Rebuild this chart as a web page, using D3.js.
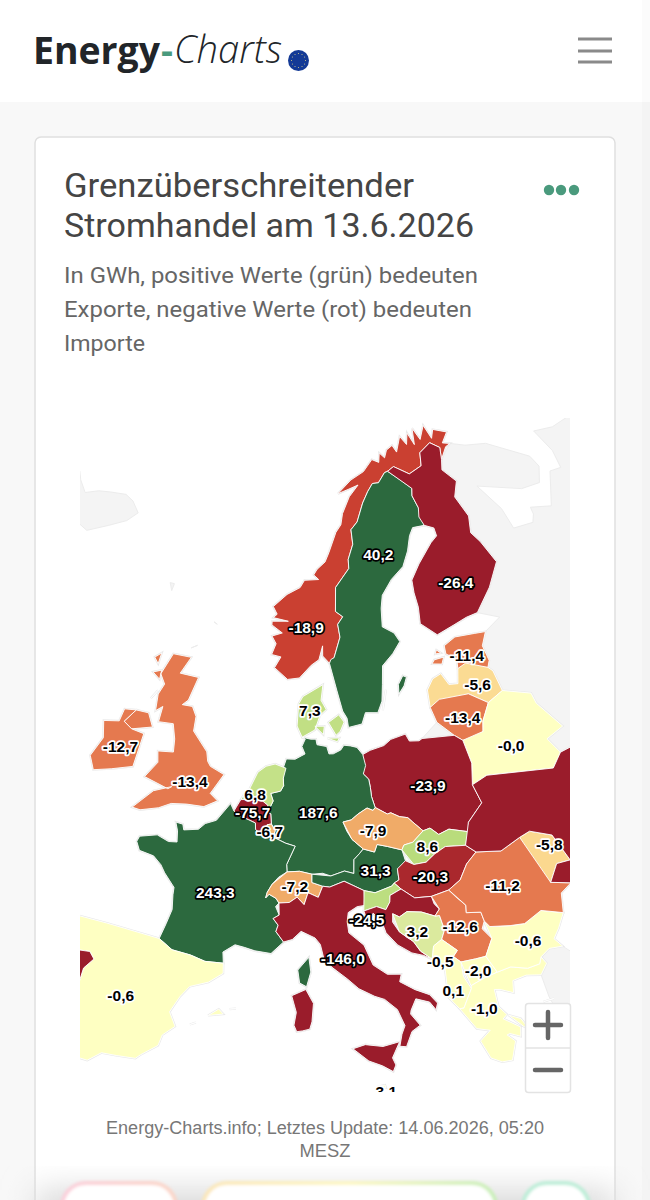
<!DOCTYPE html>
<html lang="de"><head><meta charset="utf-8">
<script src="https://cdn.jsdelivr.net/npm/d3@7"></script>
<style>html,body{margin:0;padding:0;background:#f8f8f8;overflow:hidden}svg{display:block}text{font-family:Roboto,"Liberation Sans",sans-serif}</style>
</head><body><svg id="c" width="650" height="1200"></svg>
<script>
const titleLines=["Grenzüberschreitender","Stromhandel am 13.6.2026"];
const subtitleLines=["In GWh, positive Werte (grün) bedeuten","Exporte, negative Werte (rot) bedeuten","Importe"];
const footerLines=["Energy-Charts.info; Letztes Update: 14.06.2026, 05:20","MESZ"];
const countries=["NO","SE","FI","EE","LV","LT","BY","PL","DK","DE","NL","BE","LU","FR","GB","IE","ES","PT","CH","AT","IT","CZ","SK","HU","SI","HR","BA","RS","ME","AL","MK","GR","BG","RO","MD","UA","MT"];
const values=[-18.9,40.2,-26.4,-11.4,-5.6,-13.4,-0.0,-23.9,7.3,187.6,6.8,-75.7,-6.7,243.3,-13.4,-12.7,-0.6,-30,-7.2,31.3,-146.0,-7.9,8.6,-20.3,8,-24.5,3.2,-12.6,-0.5,0.1,-2.0,-1.0,-0.6,-11.2,-5.8,-30,-3.1];
const hiddenLabels=["PT","SI","UA"];
const labelLon=[8.8,17.7,26.3,25.6,26,23.9,27.7,19.75,9.3,10.1,4.6,4.5,6.05,2.05,-1.2,-7.9,-3.85,-8,8.25,14.7,11.9,14.7,19.05,19,14.6,13.8,17.55,20.8,19,19.7,21.65,21.7,25.6,24.5,28.8,30,14.4];
const labelLat=[60.85,64.6,62.4,58.45,56.8,55.2,53.15,51.9,56.35,50.85,51.66,50.7,49.75,46.2,52,53.1,39.95,40,46.8,47.6,42.9,49.75,48.65,47,46,45,44.1,44.1,42.35,40.7,41.6,39.5,42.7,45.9,47.5,49,35.62];
const colorDomain=[-21,-19,-14,-11,-8,-7,-5.8,-3,0,3,9,30];
const colorRange=["#9a1c2b","#c93f30","#e5794f","#e5794f","#f0ab68","#f0ab68","#fbd88f","#feffc2","#feffc2","#dcea9f","#b6db7a","#2c693e"];
const darkHalo=["NO","SE","FI","DE","FR","PL","AT","HU","IT","BE","HR"];

const shapes={
NO:[[[11.3,58.9],[10.6,59.3],[10.6,59.85],[10.2,59.1],[9.4,58.8],[8.2,58.1],[7,58],[5.6,58.6],[6.2,59.2],[5.2,59.3],[5.6,59.9],[5.1,60.3],[6.2,60.5],[5,60.9],[5,61.1],[6.8,61.15],[5.1,61.3],[5.5,61.5],[5,61.9],[6.5,62.6],[8,63],[8.5,63.4],[10.2,63.45],[9.6,63.7],[10,64],[11,64.4],[11.5,64.9],[12.5,66],[13.2,66.4],[13.5,67],[14.6,67.9],[16,68.5],[14.5,68.3],[13,68.1],[15,68.8],[17,69.2],[18.5,69.8],[19.5,69.6],[19.8,70.1],[20.5,69.8],[21,70.2],[22,70.4],[22.5,70],[23.5,70.8],[24.3,70.3],[24.8,70.9],[25.5,70.2],[25.8,71.1],[26.6,70.4],[27.7,71.1],[28.4,70.3],[29,70.75],[31,70.4],[29.8,69.9],[30.9,69.75],[30.1,69.65],[28.9,69.05],[29.2,69.7],[27.9,70.1],[26,69.7],[25.7,69],[23.7,68.7],[21.6,69.25],[20.6,69.05],[20.1,69],[19,68.5],[18.1,68.5],[17.3,68.1],[16.4,67.5],[15.4,66.5],[14.5,66.1],[14.6,65.3],[13.9,64.5],[13.9,64],[12.2,63],[12.1,61.7],[12.9,61.4],[12.3,61],[12.5,60.3],[11.8,59.2],[11.45,59.1]]],
SE:[[[24.15,65.8],[22.6,65.8],[22,65.4],[21.4,64.6],[20.5,63.8],[18.9,63.2],[17.6,62.4],[17.3,61.7],[17.2,60.7],[18.4,60.3],[18.9,59.8],[18,59.2],[16.8,58.6],[16.6,57.6],[16.4,56.7],[15.9,56.1],[14.7,56.15],[14.3,55.55],[13,55.4],[12.9,55.9],[12.5,56.3],[12,57.4],[11.3,58.9],[11.45,59.1],[11.8,59.2],[12.5,60.3],[12.3,61],[12.9,61.4],[12.1,61.7],[12.2,63],[13.9,64],[13.9,64.5],[14.6,65.3],[14.5,66.1],[15.4,66.5],[16.4,67.5],[17.3,68.1],[18.1,68.5],[19,68.5],[20.1,69],[20.6,69.05],[22.4,68.4],[23.6,67.9],[23.4,67.5],[23.9,66.8],[23.7,66.3]],[[18.15,57],[18.2,57.5],[18.75,57.95],[19.1,57.85],[18.75,57.4],[18.35,57.05]],[[16.4,56.2],[16.9,57.3],[16.55,56.2]]],
FI:[[[20.6,69.05],[21.6,69.25],[23.7,68.7],[25.7,69],[26,69.7],[27.9,70.1],[29.2,69.7],[28.9,69.05],[28.5,68.5],[30,67.7],[29.1,66.9],[30.1,65.7],[29.7,64.8],[30.5,64.2],[31.6,62.9],[29.9,61.7],[27.8,60.55],[26.5,60.45],[25,60.2],[23,59.85],[21.4,60.6],[21.5,61.5],[21.3,62.3],[21.3,63],[22.5,63.8],[24.5,64.8],[25.4,65.1],[25.3,65.55],[24.15,65.8],[23.7,66.3],[23.9,66.8],[23.4,67.5],[23.6,67.9],[22.4,68.4]]],
EE:[[[24.4,57.85],[24.5,58.35],[23.5,58.75],[23.5,59.2],[24.8,59.55],[26.9,59.5],[28.1,59.45],[27.4,58.75],[27.7,57.9],[27.4,57.55],[25.3,58.05]],[[21.9,58.35],[22.2,58.55],[23.2,58.6],[22.9,58.25],[22.1,58]],[[22.4,58.85],[22.6,59.05],[23,58.85],[22.6,58.7]]],
LV:[[[21,56.05],[21,57],[21.7,57.55],[22.6,57.75],[23.2,57.1],[24.1,57.05],[24.4,57.85],[25.3,58.05],[27.4,57.55],[27.8,57.3],[28.2,56.15],[26.6,55.7],[24.9,56.4],[22,56.4]]],
LT:[[[21,56.05],[22,56.4],[24.9,56.4],[26.6,55.7],[25.7,54.8],[25.5,54.25],[24.4,53.9],[23.5,54],[22.8,54.35],[21.4,55.2],[21.15,55.35]]],
BY:[[[23.5,54],[23.9,52.7],[23.6,51.55],[25,51.9],[30.8,51.4],[31.8,52.1],[31,53],[32.7,53.4],[31,55],[30.8,55.6],[28.2,56.15],[26.6,55.7],[25.7,54.8],[25.5,54.25],[24.4,53.9]]],
PL:[[[14.2,53.9],[14.9,54.1],[16.2,54.3],[16.9,54.6],[18.3,54.8],[18.6,54.4],[19.5,54.35],[19.8,54.45],[22.8,54.35],[23.5,54],[23.9,52.7],[23.6,51.55],[24.1,50.5],[22.7,49.6],[22.55,49.1],[21,49.4],[20.1,49.2],[19.45,49.6],[18.85,49.5],[18.05,50.05],[17.7,50.3],[17,50.4],[16.3,50.65],[16,50.6],[15,51],[14.75,51.6],[14.7,52.1],[14.6,52.55],[14.15,52.85],[14.4,53.3]]],
DK:[[[8.6,54.9],[8.1,55.5],[8.2,56.7],[8.6,57.1],[10.6,57.75],[10.4,56.9],[10.9,56.4],[10.3,56.1],[9.8,55.3],[9.4,54.8]],[[11.1,55.7],[12.1,56.1],[12.6,55.7],[12.2,55.2],[11.8,55],[11.2,55.2]],[[9.8,55.5],[10.7,55.5],[10.6,55.05],[10,55.15]],[[11,54.85],[12.1,54.85],[11.9,54.65],[11.1,54.7]]],
DE:[[[7,53.3],[7.2,53.7],[8,53.7],[8.6,53.9],[8.9,54],[8.6,54.4],[8.9,54.8],[8.6,54.9],[9.4,54.8],[9.9,54.8],[10,54.5],[10.9,54.4],[11.1,54],[11.5,54],[12.2,54.2],[12.5,54.45],[13.1,54.4],[13.7,54.3],[14.2,53.9],[14.4,53.3],[14.15,52.85],[14.6,52.55],[14.7,52.1],[14.75,51.6],[15,51],[14.8,50.85],[14.3,51],[13.5,50.7],[12.9,50.4],[12.2,50.3],[12.5,49.8],[12.9,49.35],[13.8,48.8],[13.45,48.55],[13,48.25],[12.95,47.5],[12.2,47.65],[11.1,47.4],[10.45,47.55],[9.6,47.5],[8.6,47.65],[7.6,47.6],[7.55,48],[8.2,49],[7.4,49.15],[6.35,49.45],[6.5,49.8],[6.15,50.15],[6.05,50.7],[5.85,50.75],[6,51.1],[6.2,51.4],[5.95,51.8],[6.8,51.95],[7.05,52.25],[7,52.65],[7.2,53.2]]],
NL:[[[7.2,53.2],[7,52.65],[7.05,52.25],[6.8,51.95],[5.95,51.8],[6.2,51.4],[6,51.1],[5.85,50.75],[5.7,50.8],[5.75,51.15],[5.1,51.45],[4.3,51.4],[3.4,51.35],[3.6,51.6],[4.1,52],[4.7,52.9],[5.4,53.25],[6.2,53.4],[7,53.3]]],
BE:[[[3.4,51.35],[4.3,51.4],[5.1,51.45],[5.75,51.15],[5.7,50.8],[5.85,50.75],[6.05,50.7],[6.15,50.15],[5.8,50.1],[5.75,49.8],[5.85,49.5],[5.45,49.5],[4.85,49.8],[4.8,50.15],[4.2,50.3],[3.3,50.5],[2.9,50.7],[2.55,51.08]]],
LU:[[[5.85,49.5],[6.35,49.45],[6.5,49.8],[6.15,50.15],[5.8,50.1],[5.75,49.8]]],
FR:[[[2.55,51.08],[2.9,50.7],[3.3,50.5],[4.2,50.3],[4.8,50.15],[4.85,49.8],[5.45,49.5],[5.85,49.5],[6.35,49.45],[7.4,49.15],[8.2,49],[7.55,48],[7.6,47.6],[6.95,47.3],[6.45,46.9],[6.1,46.45],[6,46.15],[6.25,46.35],[6.8,46.15],[7.05,45.9],[6.8,45.7],[7.1,45.25],[6.65,45.05],[7.05,44.7],[6.9,44.35],[7.5,43.8],[6.6,43.15],[5.4,43.25],[4.6,43.4],[3.9,43.5],[3.05,43.05],[3.15,42.45],[1.8,42.45],[0.7,42.7],[-0.7,42.85],[-1.75,43.35],[-1.4,44.2],[-1.1,45],[-1.2,45.8],[-1.2,46.2],[-2.1,46.9],[-2.5,47.3],[-3.2,47.7],[-4.4,47.85],[-4.75,48.3],[-4.6,48.6],[-3.2,48.85],[-2.2,48.6],[-1.5,48.65],[-1.6,49.25],[-1.85,49.7],[-1.25,49.65],[-1.1,49.35],[0.1,49.5],[0.6,49.85],[1.5,50.1],[1.6,50.8]],[[9.4,43],[9.55,42.2],[9.25,41.4],[8.75,41.6],[8.6,42.3],[9.1,42.7]]],
GB:[[[-5.7,50.05],[-5,50],[-3.5,50.3],[-2.5,50.65],[-1.2,50.75],[0.3,50.75],[1.4,51.15],[0.7,51.5],[1.7,52.6],[0.4,52.95],[0.1,53.2],[-0.1,53.7],[-1.6,54.7],[-1.6,55.5],[-2.1,56],[-3.1,56],[-2.6,56.3],[-2,57.6],[-3.9,57.65],[-3.1,58.6],[-5,58.6],[-5.8,57.4],[-5.2,56.9],[-5.6,56.3],[-5.5,55.4],[-4.9,55.7],[-5,54.85],[-3.6,54.9],[-3.2,54.1],[-3.1,53.4],[-4.5,53.3],[-4.3,52.7],[-5.2,51.8],[-3,51.4],[-2.7,51.55],[-4.2,51.15],[-5.1,50.4]],[[-5.45,54.5],[-6.1,55.2],[-7.3,55.2],[-8.15,54.45],[-7.3,54.15],[-6.1,54.05]],[[-6.8,58.2],[-6.2,58.5],[-6.3,57.9],[-7,57.9]],[[-6.6,57.4],[-5.8,57.6],[-5.8,57.1],[-6.3,57.1]],[[-6.2,56],[-5.7,56.5],[-6.3,56.4]]],
IE:[[[-6.1,54.05],[-7.3,54.15],[-8.15,54.45],[-7.3,55.2],[-8.4,55.1],[-8.6,54.4],[-10,54.2],[-9.6,53.3],[-10.3,52.2],[-9.7,51.5],[-8.2,51.8],[-6.4,52.2],[-6,53.3]]],
ES:[[[-1.75,43.35],[-0.7,42.85],[0.7,42.7],[1.8,42.45],[3.15,42.45],[3.2,41.9],[2.2,41.35],[0.9,41],[0.3,40.4],[-0.3,39.5],[0.2,38.75],[-0.6,38.2],[-0.8,37.6],[-1.9,36.95],[-2.2,36.72],[-3.5,36.7],[-4.5,36.7],[-5.35,36.15],[-6,36.2],[-6.4,36.9],[-7.4,37.2],[-7.5,37.6],[-7,38],[-7.3,38.4],[-7,39],[-7.5,39.65],[-6.9,40.25],[-6.8,41],[-6.2,41.6],[-6.6,41.95],[-8.1,41.85],[-8.85,41.85],[-9.2,43.15],[-8,43.7],[-5.8,43.65],[-3.8,43.45]],[[2.4,39.55],[3.1,39.95],[3.45,39.7],[3.1,39.3]],[[3.85,40],[4.3,40.05],[4.25,39.85]],[[1.2,38.95],[1.6,39.1],[1.55,38.9]]],
PT:[[[-8.85,41.85],[-8.1,41.85],[-6.6,41.95],[-6.2,41.6],[-6.8,41],[-6.9,40.25],[-7.5,39.65],[-7,39],[-7.3,38.4],[-7,38],[-7.5,37.6],[-7.4,37.2],[-8.9,37],[-8.8,38.4],[-9.5,38.75],[-8.9,40.2]]],
CH:[[[7.6,47.6],[8.6,47.65],[9.6,47.5],[9.6,47.05],[10.45,46.85],[10.1,46.25],[9.3,46.5],[9,45.85],[8.45,46.25],[7.85,45.95],[7.05,45.9],[6.8,46.15],[6.25,46.35],[6,46.15],[6.1,46.45],[6.45,46.9],[6.95,47.3]]],
AT:[[[9.6,47.5],[9.6,47.05],[10.45,46.85],[11,46.8],[12.15,47.1],[13.7,46.55],[14.55,46.4],[15.9,46.7],[16.1,46.85],[16.5,47],[16.45,47.6],[17.1,47.7],[17.15,48],[16.95,48.6],[15.8,48.85],[14.95,49],[14.7,48.6],[13.8,48.8],[13.45,48.55],[13,48.25],[12.95,47.5],[12.2,47.65],[11.1,47.4],[10.45,47.55]]],
IT:[[[7.05,45.9],[7.85,45.95],[8.45,46.25],[9,45.85],[9.3,46.5],[10.1,46.25],[10.45,46.85],[11,46.8],[12.15,47.1],[13.7,46.55],[13.7,45.75],[13.1,45.7],[12.4,45.4],[12.3,44.9],[12.4,44.3],[13.5,43.6],[14.1,42.5],[15.1,41.95],[16.1,41.9],[15.95,41.5],[17,41],[18,40.65],[18.5,40.15],[18.35,39.8],[17.95,40.25],[17,40.5],[16.6,39.9],[16.55,39.7],[17.15,39.05],[16.55,38.75],[16.1,37.95],[15.65,38],[15.85,38.65],[16.1,39.1],[15.65,40],[14.8,40.6],[14.1,40.8],[13,41.25],[12.2,41.8],[11.1,42.45],[10.5,42.95],[10.25,43.7],[9.85,44.05],[8.8,44.4],[8.15,43.95],[7.5,43.8],[6.9,44.35],[7.05,44.7],[6.65,45.05],[7.1,45.25],[6.8,45.7]],[[12.45,38],[13.3,38.2],[14.5,38.05],[15.65,38.25],[15.1,37.4],[15.3,37],[15.1,36.65],[14.4,37],[13.5,37.3],[12.5,37.6]],[[8.2,40.9],[9.2,41.25],[9.75,40.5],[9.65,39.5],[9.5,39.1],[9,39],[8.6,38.95],[8.4,39.3],[8.55,40],[8.2,40.6]]],
CZ:[[[12.2,50.3],[12.9,50.4],[13.5,50.7],[14.3,51],[14.8,50.85],[15,51],[16,50.6],[16.3,50.65],[17,50.4],[17.7,50.3],[18.05,50.05],[18.85,49.5],[17.9,48.95],[17.15,48.85],[16.95,48.6],[15.8,48.85],[14.95,49],[14.7,48.6],[13.8,48.8],[12.9,49.35],[12.5,49.8]]],
SK:[[[16.95,48.6],[17.15,48.85],[17.9,48.95],[18.85,49.5],[19.45,49.6],[20.1,49.2],[21,49.4],[22.55,49.1],[22.15,48.4],[20.5,48.5],[19.6,48.2],[18.8,47.8],[17.8,47.75],[17.15,48]]],
HU:[[[17.15,48],[17.8,47.75],[18.8,47.8],[19.6,48.2],[20.5,48.5],[22.15,48.4],[22.9,47.95],[22,47.4],[21.3,46.6],[20.3,46.15],[18.9,45.93],[17.6,45.95],[16.6,46.5],[16.1,46.85],[16.5,47],[16.45,47.6],[17.1,47.7]]],
SI:[[[13.7,46.55],[14.55,46.4],[15.9,46.7],[16.1,46.85],[16.6,46.5],[15.7,46.2],[15.65,45.85],[15.3,45.45],[14.6,45.65],[13.6,45.45],[13.7,45.75]]],
HR:[[[13.6,45.45],[14.6,45.65],[15.3,45.45],[15.65,45.85],[15.7,46.2],[16.6,46.5],[17.6,45.95],[18.9,45.93],[19.05,45.5],[19.4,45.2],[19,44.85],[18,45.15],[16.9,45.25],[16.3,45],[15.8,45.2],[15.75,44.75],[16.2,44.2],[17.2,43.6],[17.65,43.05],[18.45,42.55],[17.85,42.8],[17,43],[16,43.5],[15.2,44.2],[14.9,44.9],[14.3,45.3],[13.9,44.85],[13.55,45.1]]],
BA:[[[15.8,45.2],[16.3,45],[16.9,45.25],[18,45.15],[19,44.85],[19.35,44.85],[19.6,44.05],[19.3,43.55],[18.65,43.25],[18.45,42.55],[17.65,43.05],[17.2,43.6],[16.2,44.2],[15.75,44.75]]],
RS:[[[18.9,45.93],[20.3,46.15],[20.75,45.75],[21.45,45.2],[21.4,44.8],[22.5,44.7],[22.65,44.2],[22.4,43.8],[23,43.2],[22.36,42.3],[21.6,42.25],[20.5,42.2],[20,42.55],[20.35,42.85],[19.3,43.55],[19.6,44.05],[19.35,44.85],[19,44.85],[19.4,45.2],[19.05,45.5]]],
ME:[[[18.45,42.55],[18.65,43.25],[19.3,43.55],[20.35,42.85],[20,42.55],[19.3,41.9],[18.9,42.25]]],
AL:[[[19.3,41.9],[20,42.55],[20.5,42.2],[20.55,41.4],[21,40.7],[20.3,39.7],[20,39.7],[19.3,40.4],[19.5,41.3]]],
MK:[[[20.5,42.2],[21.6,42.25],[22.36,42.3],[23,41.35],[22,41.15],[21,40.85],[20.55,41.4]]],
GR:[[[20,39.7],[20.3,39.7],[21,40.7],[21,40.85],[22,41.15],[23,41.35],[24,41.5],[25.2,41.25],[26.1,41.35],[26.3,41.7],[26.6,41.3],[26.05,40.75],[25,40.9],[24,40.75],[23.9,40.1],[23,40.4],[22.6,40.45],[22.7,39.5],[23.2,39],[22.9,38.8],[24,38.2],[23.9,37.7],[23.2,37.95],[23,37.9],[23.5,37.5],[23.1,36.5],[22.4,36.5],[21.7,36.8],[21.15,37.8],[21.9,38.3],[21,38.5],[20.7,39]],[[23.3,38.95],[24.1,38.65],[24.55,38],[24.2,38.2],[23.2,38.75]],[[25.85,39.3],[26.6,39.35],[26.4,39]]],
BG:[[[22.65,44.2],[23,43.85],[24.5,43.7],[25.6,43.65],[27,44.15],[28.6,43.75],[28,43],[27.5,42.5],[28,42],[27,42.05],[26.3,41.7],[26.1,41.35],[25.2,41.25],[24,41.5],[23,41.35],[22.36,42.3],[23,43.2],[22.4,43.8]]],
RO:[[[20.3,46.15],[21.3,46.6],[22,47.4],[22.9,47.95],[24.9,47.75],[26.6,48.25],[28.1,46.85],[28.2,45.5],[29.7,45.2],[28.8,44.8],[28.6,43.75],[27,44.15],[25.6,43.65],[24.5,43.7],[23,43.85],[22.65,44.2],[22.5,44.7],[21.4,44.8],[21.45,45.2],[20.75,45.75]]],
MD:[[[26.6,48.25],[27.5,48.45],[29.2,47.95],[30.1,46.4],[29,46.4],[28.2,45.5],[28.1,46.85]]],
UA:[[[22.15,48.4],[22.9,47.95],[24.9,47.75],[26.6,48.25],[27.5,48.45],[29.2,47.95],[30.1,46.4],[29,46.4],[28.2,45.5],[29.7,45.2],[30.8,46.5],[33,46.1],[33.6,46],[36,46.5],[38.2,47.1],[40,49.6],[35.5,50.4],[33.8,52.3],[31.8,52.1],[30.8,51.4],[25,51.9],[23.6,51.55],[24.1,50.5],[22.7,49.6],[22.55,49.1]]],
MT:[[[14.2,35.9],[14.5,35.95],[14.55,35.8],[14.35,35.8]]]
};
const greyLands=[
[[-24.3,65.6],[-23,66.2],[-22.3,65.8],[-21,65.3],[-19.5,65.7],[-18,65.9],[-16,66.1],[-14.8,65.9],[-13.6,65.4],[-14.6,64.8],[-16.5,64.2],[-18.7,63.5],[-21,63.8],[-22.7,63.85],[-22,64.4],[-24,64.85],[-22,65.3]],
[[30.9,69.75],[33,69.4],[36,69.1],[41,67.5],[41.5,66.8],[40.5,66],[38,66.1],[32.5,67.1],[34.5,65.5],[35,64.3],[37.5,64.2],[38,64.6],[38,65],[40.5,64.6],[42.5,66.3],[44,66.2],[44.2,67.2],[43.3,68.6],[46,68.3],[60,68],[60,50],[40,49.6],[35.5,50.4],[33.8,52.3],[31.8,52.1],[31,53],[32.7,53.4],[31,55],[30.8,55.6],[28.2,56.15],[27.8,57.3],[27.4,57.55],[27.7,57.9],[27.4,58.75],[28.1,59.45],[30,60],[27.8,60.55],[29.9,61.7],[31.6,62.9],[30.5,64.2],[29.7,64.8],[30.1,65.7],[29.1,66.9],[30,67.7],[28.5,68.5],[28.9,69.05],[30.1,69.65]],
[[19.8,54.45],[22.8,54.35],[21.4,55.2],[20.5,54.95]],
[[26.05,40.75],[26.6,41.3],[26.3,41.7],[27,42.05],[28,42],[29,41.2],[31,41.1],[35,42],[42,41.5],[44,37],[36,36.3],[30,36.3],[27.3,37],[26.3,39.5],[26.2,40]],
[[-7.2,62.3],[-6.7,62.3],[-6.8,61.9],[-7.1,62]],
[[-1.4,60.7],[-1,60.6],[-1.3,59.9]],
[[-3.3,59.1],[-2.7,59.3],[-2.9,58.9]]
];

const svg=d3.select("#c");
const defs=svg.append("defs");
defs.append("clipPath").attr("id","mapClip").append("rect").attr("x",80).attr("y",418).attr("width",490).attr("height",674);
defs.append("filter").attr("id","soft").attr("x","-20%").attr("y","-40%").attr("width","140%").attr("height","180%").append("feGaussianBlur").attr("stdDeviation",1.6);
defs.append("filter").attr("id","shade").attr("x","-20%").attr("y","-60%").attr("width","140%").attr("height","220%").append("feGaussianBlur").attr("stdDeviation",16);
const pinkGrad=defs.append("linearGradient").attr("id","pk");
pinkGrad.append("stop").attr("offset",0).attr("stop-color","#fbd0dc");pinkGrad.append("stop").attr("offset",1).attr("stop-color","#fbd6c8");
const midGrad=defs.append("linearGradient").attr("id","mid");
midGrad.append("stop").attr("offset",0).attr("stop-color","#fbe7ba");midGrad.append("stop").attr("offset",.5).attr("stop-color","#fdf7c4");midGrad.append("stop").attr("offset",1).attr("stop-color","#c9efb9");

svg.append("rect").attr("width",650).attr("height",1200).attr("fill","#f8f8f8");
svg.append("rect").attr("width",642).attr("height",102).attr("fill","#fff");
svg.append("rect").attr("x",642).attr("width",8).attr("height",1200).attr("fill","#f4f4f4");
svg.append("rect").attr("x",642).attr("width",8).attr("height",102).attr("fill","#fbfbfb");
svg.append("text").attr("x",33).attr("y",64).attr("font-size",38).attr("font-weight",700).attr("fill","#212529").style("font-family","'Open Sans'").attr("textLength",127).attr("lengthAdjust","spacingAndGlyphs").text("Energy");
svg.append("text").attr("x",161).attr("y",64).attr("font-size",38).attr("font-weight",700).attr("fill","#4a9a7d").style("font-family","'Open Sans'").attr("textLength",12).attr("lengthAdjust","spacingAndGlyphs").text("-");
svg.append("text").attr("x",174).attr("y",63).attr("font-size",38).attr("font-style","italic").attr("font-weight",300).attr("fill","#212529").style("font-family","'Open Sans'").attr("textLength",108).attr("lengthAdjust","spacingAndGlyphs").text("Charts");
svg.append("circle").attr("cx",298.5).attr("cy",60.5).attr("r",10.5).attr("fill","#143a96");
const starAngles=d3.range(12).map(i=>i*30);
svg.append("g").selectAll("circle").data(starAngles).join("circle").attr("cx",d=>298.5+7*Math.cos(d*Math.PI/180)).attr("cy",d=>60.5+7*Math.sin(d*Math.PI/180)).attr("r",.55).attr("fill","#c9c48a");
[39,51,62].forEach(y=>svg.append("rect").attr("x",578).attr("y",y-1.5).attr("width",34).attr("height",3).attr("fill","#8a8a8a"));

svg.append("rect").attr("x",35).attr("y",137).attr("width",580).attr("height",1080).attr("rx",6).attr("fill","#fff").attr("stroke","#dfdfdf").attr("stroke-width",1.5);

svg.append("g").selectAll("text").data(titleLines).join("text").attr("x",64).attr("y",(d,i)=>197+i*40).attr("font-size",33).attr("fill","#454545").attr("textLength",(d,i)=>[350,410][i]).attr("lengthAdjust","spacingAndGlyphs").text(d=>d);
svg.append("g").selectAll("text").data(subtitleLines).join("text").attr("x",64).attr("y",(d,i)=>283+i*34).attr("font-size",22).attr("fill","#666").attr("textLength",(d,i)=>[414,408,81][i]).attr("lengthAdjust","spacingAndGlyphs").text(d=>d);
svg.append("g").selectAll("circle").data([549,561,574]).join("circle").attr("cx",d=>d).attr("cy",190).attr("r",5.2).attr("fill","#4a9a7d");

const projection=d3.geoAzimuthalEqualArea().rotate([-10,-52]).scale(1060).translate([317,791]).precision(.1);
const path=d3.geoPath(d3.geoTransform({point(x,y){const p=projection([x,y]);this.stream.point(p[0],p[1]);}}));
const color=d3.scaleLinear().domain(colorDomain).range(colorRange).clamp(true);
const fmt=v=>(v<0||Object.is(v,-0)?"-":"")+Math.abs(v).toFixed(1).replace(".",",");
const rows=countries.map((id,i)=>({id,value:values[i],lon:labelLon[i],lat:labelLat[i]}));
const mapG=svg.append("g").attr("clip-path","url(#mapClip)");
const greyG=mapG.append("g");
greyG.selectAll("path").data(greyLands).join("path").attr("d",d=>path({type:"Polygon",coordinates:[d]})).attr("fill","#f4f4f4").attr("stroke","#ececec").attr("stroke-width",1);
mapG.append("g").selectAll("path").data(rows).join("path").attr("d",d=>path({type:"MultiPolygon",coordinates:shapes[d.id].map(r=>[r])})).attr("fill","none").attr("stroke","#e9e9e9").attr("stroke-width",2.2);
mapG.append("g").selectAll("path").data(rows).join("path").attr("d",d=>path({type:"MultiPolygon",coordinates:shapes[d.id].map(r=>[r])})).attr("fill",d=>color(d.value)).attr("stroke","#fff").attr("stroke-width",.9).attr("stroke-linejoin","round");
mapG.append("g").selectAll("text").data(rows.filter(d=>!hiddenLabels.includes(d.id))).join("text")
 .attr("x",d=>projection([d.lon,d.lat])[0]).attr("y",d=>projection([d.lon,d.lat])[1]+5.5)
 .attr("text-anchor","middle").attr("font-size",15.5).attr("font-weight",700).style("font-family","'Liberation Sans'")
 .attr("fill",d=>darkHalo.includes(d.id)?"#fff":"#000").attr("stroke",d=>darkHalo.includes(d.id)?"#000":"#fff").attr("stroke-width",3.4).attr("stroke-linejoin","round").attr("paint-order","stroke").text(d=>fmt(d.value));

const zoomG=svg.append("g");
zoomG.append("rect").attr("x",525.5).attr("y",1003.5).attr("width",45).attr("height",89).attr("rx",3).attr("fill","#fff").attr("stroke","#e3e3e3").attr("stroke-width",1.5);
zoomG.append("line").attr("x1",525).attr("x2",571).attr("y1",1048).attr("y2",1048).attr("stroke","#e3e3e3").attr("stroke-width",1.5);
zoomG.append("path").attr("d","M535 1025H561M548 1012V1038").attr("stroke","#666").attr("stroke-width",4.5).attr("stroke-linecap","round");
zoomG.append("path").attr("d","M535 1070H561").attr("stroke","#666").attr("stroke-width",4.5).attr("stroke-linecap","round");

svg.append("g").selectAll("text").data(footerLines).join("text").attr("x",325).attr("y",(d,i)=>1134+i*23).attr("text-anchor","middle").attr("font-size",17.5).attr("fill","#777").style("font-family","'Liberation Sans'").attr("textLength",(d,i)=>[438,51][i]).attr("lengthAdjust","spacingAndGlyphs").text(d=>d);

svg.append("rect").attr("x",36).attr("y",1190).attr("width",578).attr("height",40).attr("fill","#d8d8d8").attr("filter","url(#shade)");
[[62,114,"url(#pk)"],[203,293,"url(#mid)"],[523,66,"#bdeed8"]].forEach(b=>{
 svg.append("rect").attr("x",b[0]).attr("y",1183).attr("width",b[1]).attr("height",50).attr("rx",24).attr("fill","#fff").attr("stroke",b[2]).attr("stroke-width",4).attr("filter","url(#soft)");
});
</script></body></html>
